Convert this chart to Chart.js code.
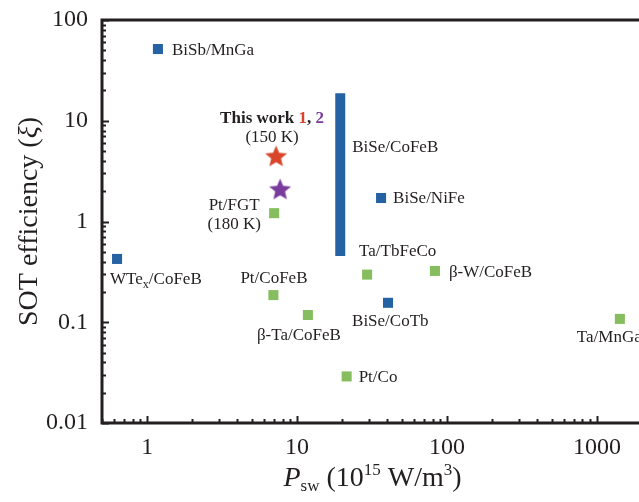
<!DOCTYPE html>
<html>
<head>
<meta charset="utf-8">
<script src="https://cdn.jsdelivr.net/npm/chart.js"></script>
<style>
  html, body { margin: 0; padding: 0; background: #fff; }
  #wrap { width: 639px; height: 502px; }
</style>
</head>
<body>
<div id="wrap"><canvas id="sotChart" width="639" height="502"></canvas></div>
<script>
// Data (P_sw in 1e15 W/m^3, SOT efficiency xi)
const blueNames = ['BiSb/MnGa', 'BiSe/NiFe', 'BiSe/CoTb', 'WTex/CoFeB'];
const blueX = [1.18, 36.3, 40.4, 0.63];
const blueY = [51.5, 1.71, 0.156, 0.425];

const greenNames = ['Pt/FGT', 'Ta/TbFeCo', 'β-W/CoFeB', 'Ta/MnGa', 'Pt/Co', 'Pt/CoFeB', 'β-Ta/CoFeB'];
const greenX = [7.03, 29.3, 83, 1420, 21.4, 6.95, 11.8];
const greenY = [1.21, 0.297, 0.323, 0.108, 0.029, 0.186, 0.118];

const thisWorkX = [7.24, 7.7];
const thisWorkY = [4.47, 2.1];

// BiSe/CoFeB is a range, drawn as a thick vertical bar
const rangeX = [19.4, 19.4];
const rangeY = [0.455, 18.8];

const xTickLabels = [1, 10, 100, 1000];
const yTickLabels = [0.01, 0.1, 1, 10, 100];

document.addEventListener("DOMContentLoaded", () => {

    const SERIF = '"Liberation Serif", "DejaVu Serif", serif';
    const INK = '#231f20';
    const BLUE = '#2462a4';
    const GREEN = '#86bd5e';
    const RED = '#d9452b';
    const PURPLE = '#7a3c9c';

    const toPoints = (xs, ys) => xs.map((x, i) => ({ x: x, y: ys[i] }));

    // filled five-point star used as point style
    const starImage = (color, R) => {
        const c = document.createElement('canvas');
        const s = Math.ceil(R * 2 + 2);
        c.width = c.height = s;
        const g = c.getContext('2d');
        g.fillStyle = color;
        g.beginPath();
        for (let i = 0; i < 10; i++) {
            const r = i % 2 ? R * 0.45 : R;
            const a = -Math.PI / 2 + i * Math.PI / 5;
            g.lineTo(s / 2 + r * Math.cos(a), s / 2 + 1 + r * Math.sin(a));
        }
        g.closePath();
        g.fill();
        return c;
    };

    // draw a line of mixed-style text (sub/superscripts, colours)
    const drawRuns = (ctx, x, y, runs, align) => {
        let total = 0;
        runs.forEach(r => { ctx.font = r.font; total += ctx.measureText(r.text).width; });
        let cx = align === 'center' ? x - total / 2 : (align === 'right' ? x - total : x);
        ctx.textAlign = 'left';
        ctx.textBaseline = 'alphabetic';
        runs.forEach(r => {
            ctx.font = r.font;
            ctx.fillStyle = r.color || INK;
            ctx.fillText(r.text, cx, y + (r.dy || 0));
            cx += ctx.measureText(r.text).width;
        });
    };

    const f17 = `17px ${SERIF}`;
    const b17 = `bold 17px ${SERIF}`;
    const plain = t => [{ text: t, font: f17 }];

    // labels: which dataset/point they hang from, and pixel offset of the baseline
    const labels = [
        { ds: 0, i: 0, dx: 14, dy: 6, align: 'left', runs: plain('BiSb/MnGa') },
        { ds: 0, i: 1, dx: 12, dy: 5, align: 'left', runs: plain('BiSe/NiFe') },
        { ds: 0, i: 2, dx: -36, dy: 23, align: 'left', runs: plain('BiSe/CoTb') },
        { ds: 0, i: 3, dx: -7, dy: 25, align: 'left', runs: [
            { text: 'WTe', font: f17 },
            { text: 'x', font: `12px ${SERIF}`, dy: 4 },
            { text: '/CoFeB', font: f17 }
        ] },
        { ds: 1, i: 0, dx: -40, dy: -3, align: 'center', runs: plain('Pt/FGT') },
        { ds: 1, i: 0, dx: -40, dy: 16, align: 'center', runs: plain('(180 K)') },
        { ds: 1, i: 1, dx: -8, dy: -19, align: 'left', runs: plain('Ta/TbFeCo') },
        { ds: 1, i: 2, dx: 14, dy: 6, align: 'left', runs: plain('β-W/CoFeB') },
        { ds: 1, i: 3, dx: -43, dy: 23, align: 'left', runs: plain('Ta/MnGa') },
        { ds: 1, i: 4, dx: 12, dy: 6, align: 'left', runs: plain('Pt/Co') },
        { ds: 1, i: 5, dx: -33, dy: -12, align: 'left', runs: plain('Pt/CoFeB') },
        { ds: 1, i: 6, dx: -51, dy: 25, align: 'left', runs: plain('β-Ta/CoFeB') },
        { ds: 2, i: 0, dx: -4, dy: -33, align: 'center', runs: [
            { text: 'This work ', font: b17 },
            { text: '1', font: b17, color: RED },
            { text: ', ', font: b17 },
            { text: '2', font: b17, color: PURPLE }
        ] },
        { ds: 2, i: 0, dx: -4, dy: -14, align: 'center', runs: plain('(150 K)') },
        { ds: 4, i: 1, dx: 12, dy: 59, align: 'left', runs: plain('BiSe/CoFeB') }
    ];

    const minorValues = (lo, hi) => {
        const out = [];
        for (let e = -3; e <= 4; e++) {
            for (let k = 1; k <= 9; k++) {
                const v = k * Math.pow(10, e);
                if (v >= lo * 0.999 && v <= hi * 1.001) out.push({ v: v, major: k === 1 });
            }
        }
        return out;
    };

    // axes frame, inward ticks, tick labels, titles and point labels
    const framePlugin = {
        id: 'frame',
        afterDraw: (chart) => {
            const ctx = chart.ctx;
            const { left, right, top, bottom } = chart.chartArea;
            const xs = chart.scales.x;
            const ys = chart.scales.y;
            ctx.save();

            ctx.strokeStyle = INK;
            ctx.lineWidth = 2;
            minorValues(ys.min, ys.max).forEach(t => {
                const py = Math.round(ys.getPixelForValue(t.v)) + 0.5;
                ctx.beginPath();
                ctx.moveTo(left, py);
                ctx.lineTo(left + (t.major ? 7 : 4), py);
                ctx.stroke();
            });
            minorValues(xs.min, xs.max).forEach(t => {
                const px = Math.round(xs.getPixelForValue(t.v)) + 0.5;
                ctx.beginPath();
                ctx.moveTo(px, bottom);
                ctx.lineTo(px, bottom - (t.major ? 7 : 4));
                ctx.stroke();
            });

            ctx.lineWidth = 3;
            ctx.beginPath();
            ctx.moveTo(right + 2, top);
            ctx.lineTo(left, top);
            ctx.lineTo(left, bottom);
            ctx.lineTo(right + 2, bottom);
            ctx.stroke();

            ctx.fillStyle = INK;
            ctx.font = `24px ${SERIF}`;
            ctx.textAlign = 'right';
            ctx.textBaseline = 'middle';
            yTickLabels.forEach(v => ctx.fillText(String(v), left - 14, ys.getPixelForValue(v)));
            ctx.textAlign = 'center';
            ctx.textBaseline = 'middle';
            xTickLabels.forEach(v => ctx.fillText(String(v), xs.getPixelForValue(v), bottom + 25));

            // x title: P_sw (10^15 W/m^3)
            const t28 = `28px ${SERIF}`;
            const s17 = `17px ${SERIF}`;
            drawRuns(ctx, (left + right) / 2 + 2, 486, [
                { text: 'P', font: `italic ${t28}` },
                { text: 'sw', font: s17, dy: 5 },
                { text: ' (10', font: t28 },
                { text: '15', font: s17, dy: -11 },
                { text: ' W/m', font: t28 },
                { text: '3', font: s17, dy: -11 },
                { text: ')', font: t28 }
            ], 'center');

            // y title, rotated
            ctx.save();
            ctx.translate(37, (top + bottom) / 2);
            ctx.rotate(-Math.PI / 2);
            drawRuns(ctx, 0, 0, [
                { text: 'SOT efficiency (', font: t28 },
                { text: 'ξ', font: `italic ${t28}` },
                { text: ')', font: t28 }
            ], 'center');
            ctx.restore();

            labels.forEach(l => {
                const el = chart.getDatasetMeta(l.ds).data[l.i];
                drawRuns(ctx, el.x + l.dx, el.y + l.dy, l.runs, l.align);
            });

            ctx.restore();
        }
    };

    const sotCtx = document.getElementById('sotChart').getContext('2d');

    new Chart(sotCtx, {
        type: 'scatter',
        data: {
            datasets: [
                {
                    label: 'Topological',
                    data: toPoints(blueX, blueY),
                    pointStyle: 'rect',
                    pointRadius: 7.1,
                    backgroundColor: BLUE,
                    borderWidth: 0
                },
                {
                    label: 'Heavy metal',
                    data: toPoints(greenX, greenY),
                    pointStyle: 'rect',
                    pointRadius: 7.1,
                    backgroundColor: GREEN,
                    borderWidth: 0
                },
                {
                    label: 'This work 1',
                    data: toPoints(thisWorkX.slice(0, 1), thisWorkY.slice(0, 1)),
                    pointStyle: starImage(RED, 11.5)
                },
                {
                    label: 'This work 2',
                    data: toPoints(thisWorkX.slice(1), thisWorkY.slice(1)),
                    pointStyle: starImage(PURPLE, 11.5)
                },
                {
                    label: 'BiSe/CoFeB',
                    data: toPoints(rangeX, rangeY),
                    showLine: true,
                    borderColor: BLUE,
                    borderWidth: 10,
                    borderCapStyle: 'butt',
                    pointRadius: 0
                }
            ]
        },
        options: {
            responsive: false,
            animation: false,
            layout: { autoPadding: false, padding: { top: 20, right: 0, left: 0, bottom: 0 } },
            plugins: {
                legend: { display: false },
                tooltip: { enabled: false }
            },
            scales: {
                x: {
                    type: 'logarithmic',
                    bounds: 'data',
                    min: 0.5,
                    max: 1905,
                    grid: { display: false },
                    border: { display: false },
                    ticks: { display: false },
                    afterFit: (s) => { s.height = 79; }
                },
                y: {
                    type: 'logarithmic',
                    bounds: 'data',
                    min: 0.01,
                    max: 100,
                    grid: { display: false },
                    border: { display: false },
                    ticks: { display: false },
                    afterFit: (s) => { s.width = 102; }
                }
            }
        },
        plugins: [framePlugin]
    });
});
</script>
</body>
</html>
